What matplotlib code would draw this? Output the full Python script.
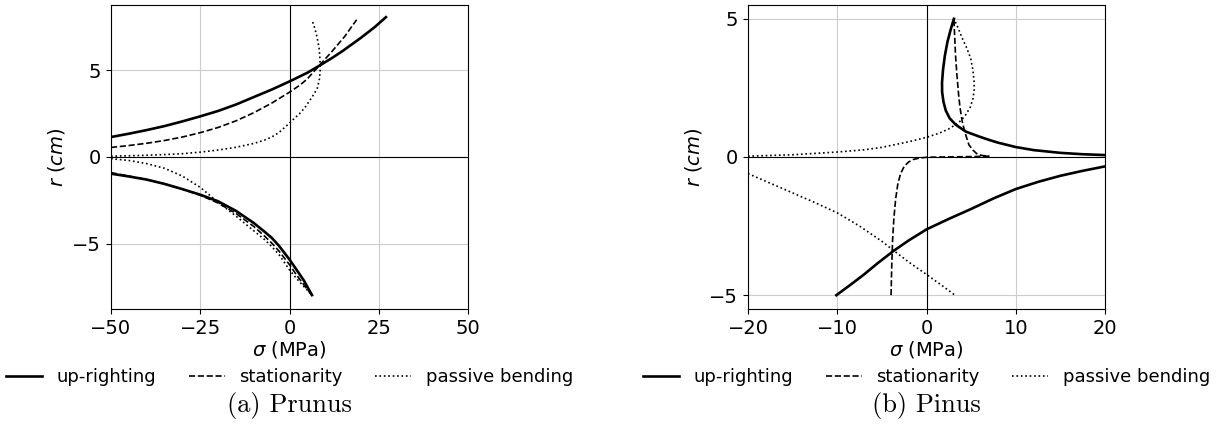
import matplotlib
matplotlib.use("Agg")
from matplotlib import pyplot as plt

# ---- Prunus (a) ----
pr_up_hi_s = [-50, -45, -40, -35, -30, -25, -20, -15, -10, -5, 0, 5, 8.3, 12, 15, 20, 24, 27]
pr_up_hi_r = [1.15, 1.34, 1.55, 1.78, 2.05, 2.34, 2.65, 3.02, 3.45, 3.88, 4.35, 4.85, 5.25, 5.71, 6.12, 6.86, 7.5, 8.05]
pr_up_lo_s = [-50, -45, -40, -35, -30, -25, -20, -15, -10, -7, -5, -3, 0, 2, 4, 6.3]
pr_up_lo_r = [-0.96, -1.12, -1.3, -1.55, -1.85, -2.17, -2.55, -3.1, -3.8, -4.3, -4.65, -5.1, -5.9, -6.5, -7.1, -7.95]

pr_st_hi_s = [-50, -45, -40, -35, -30, -25, -20, -15, -10, -5, 0, 3, 5, 8.5, 12, 15.5, 18.8]
pr_st_hi_r = [0.55, 0.66, 0.79, 0.95, 1.15, 1.4, 1.7, 2.08, 2.55, 3.1, 3.73, 4.15, 4.5, 5.3, 6.1, 6.95, 7.9]
pr_st_lo_s = [-50, -45, -40, -35, -30, -25, -20, -15, -10, -7, -5, -3, 0, 2, 4, 6.2]
pr_st_lo_r = [-0.9, -1.1, -1.3, -1.55, -1.85, -2.2, -2.65, -3.25, -4.0, -4.55, -4.95, -5.4, -6.2, -6.8, -7.35, -7.95]

pr_pb_hi_s = [-50, -45, -40, -35, -30, -25, -20, -15, -10, -7, -5, -3, 0, 1.5, 3.1, 4.5, 5.5, 6.8,
              7.8, 8.4, 8.6, 8.55, 8.3, 7.9, 7.5, 7.0, 6.4]
pr_pb_hi_r = [0.05, 0.07, 0.1, 0.14, 0.19, 0.28, 0.4, 0.56, 0.78, 0.97, 1.15, 1.4, 1.95, 2.25, 2.55, 2.9, 3.2, 3.6,
              3.97, 4.5, 5.0, 5.6, 6.26, 6.7, 7.1, 7.45, 7.83]
pr_pb_lo_s = [-50, -45, -40, -35, -30, -25, -20, -15, -10, -7, -5, -3, 0, 2, 4, 6.3]
pr_pb_lo_r = [-0.1, -0.2, -0.38, -0.65, -1.1, -1.75, -2.6, -3.4, -4.25, -4.75, -5.15, -5.6, -6.5, -7.0, -7.45, -7.95]

# ---- Pinus (b) ----
pi_up_hi_s = [3.07, 2.7, 2.35, 2.05, 1.85, 1.74, 1.75, 1.9, 2.16, 2.6, 3.27, 4.4, 5.9, 7, 8, 10, 12, 15, 17.5, 20]
pi_up_hi_r = [5.0, 4.6, 4.17, 3.65, 3.15, 2.7, 2.35, 2.0, 1.68, 1.4, 1.17, 0.92, 0.74, 0.62, 0.52, 0.36, 0.25, 0.15, 0.1, 0.07]
pi_up_lo_s = [-10.1, -8.5, -7, -5.5, -3.7, -2, 0, 2.5, 5, 7.5, 10, 12.5, 15, 17.5, 20]
pi_up_lo_r = [-5.0, -4.62, -4.25, -3.85, -3.4, -3.02, -2.62, -2.24, -1.88, -1.5, -1.16, -0.9, -0.68, -0.5, -0.34]

pi_st_s = [-3.97, -3.9, -3.8, -3.65, -3.45, -3.2, -2.9, -2.5, -2.0, -1.5, -0.8, 0, 2, 4, 6, 7,
           6.3, 5.7, 5.2, 4.75, 4.3, 4.0, 3.75, 3.6, 3.4, 3.25, 3.15, 3.07]
pi_st_r = [-5.0, -4.0, -3.0, -2.2, -1.5, -0.95, -0.6, -0.34, -0.18, -0.09, -0.04, -0.01, 0.0, 0.01, 0.02, 0.03,
           0.05, 0.1, 0.25, 0.44, 0.9, 1.29, 1.8, 2.25, 3.0, 3.69, 4.4, 5.0]

pi_pb_hi_s = [-20, -15, -10, -7, -5, -2, 0, 1.4, 2.4, 3.27, 3.9, 4.4, 4.9, 5.22, 5.35, 5.33, 5.2, 4.95,
              4.5, 4.0, 3.5, 3.07]
pi_pb_hi_r = [0.03, 0.08, 0.18, 0.26, 0.35, 0.55, 0.71, 0.86, 1.0, 1.17, 1.33, 1.53, 1.8, 2.13, 2.45, 2.73, 3.15, 3.57,
              3.95, 4.3, 4.7, 5.0]
pi_pb_lo_s = [-20, -17.5, -15, -12.5, -10, -7.5, -5, -3.7, -2, 0, 1.6, 3.2]
pi_pb_lo_r = [-0.6, -0.95, -1.3, -1.65, -2.02, -2.5, -3.05, -3.38, -3.8, -4.25, -4.62, -5.0]

labels = ["up-righting", "stationarity", "passive bending"]

fig = plt.figure(figsize=(12.16, 4.45), dpi=100)
ax1 = fig.add_axes([111 / 1216, 136 / 445, 357 / 1216, 304 / 445])
ax2 = fig.add_axes([748 / 1216, 136 / 445, 357 / 1216, 304 / 445])


def panel(ax, up, st, pb, xlim, ylim, xticks, caption):
    ax.grid(True, color="#cccccc", linewidth=0.8)
    ax.axhline(0, color="black", linewidth=0.8)
    ax.axvline(0, color="black", linewidth=0.8)
    for s, r in up:
        l1, = ax.plot(s, r, color="black", linestyle="-", linewidth=1.9)
    for s, r in st:
        l2, = ax.plot(s, r, color="black", linestyle="--", linewidth=1.2)
    for s, r in pb:
        l3, = ax.plot(s, r, color="black", linestyle=":", linewidth=1.2)
    ax.set_xlim(xlim)
    ax.set_ylim(ylim)
    ax.set_xticks(xticks)
    ax.set_yticks([-5, 0, 5])
    ax.tick_params(labelsize=14)
    ax.set_xlabel(r"$\sigma$ (MPa)", fontsize=14, labelpad=1)
    ax.set_ylabel(r"$r\ (cm)$", fontsize=14)
    ax.legend([l1, l2, l3], labels, loc="center", bbox_to_anchor=(0.5, -0.225),
              ncol=3, frameon=False, fontsize=13, handlelength=2.0, columnspacing=1.8)
    pos = ax.get_position()
    fig.text((pos.x0 + pos.x1) / 2, 0.088, caption, ha="center", va="center",
             family="cmr10", fontsize=19)


panel(ax1,
      [(pr_up_hi_s, pr_up_hi_r), (pr_up_lo_s, pr_up_lo_r)],
      [(pr_st_hi_s, pr_st_hi_r), (pr_st_lo_s, pr_st_lo_r)],
      [(pr_pb_hi_s, pr_pb_hi_r), (pr_pb_lo_s, pr_pb_lo_r)],
      (-50, 50), (-8.75, 8.75), [-50, -25, 0, 25, 50], "(a) Prunus")
panel(ax2,
      [(pi_up_hi_s, pi_up_hi_r), (pi_up_lo_s, pi_up_lo_r)],
      [(pi_st_s, pi_st_r)],
      [(pi_pb_hi_s, pi_pb_hi_r), (pi_pb_lo_s, pi_pb_lo_r)],
      (-20, 20), (-5.5, 5.5), [-20, -10, 0, 10, 20], "(b) Pinus")

fig.savefig("out.png", dpi=100)
